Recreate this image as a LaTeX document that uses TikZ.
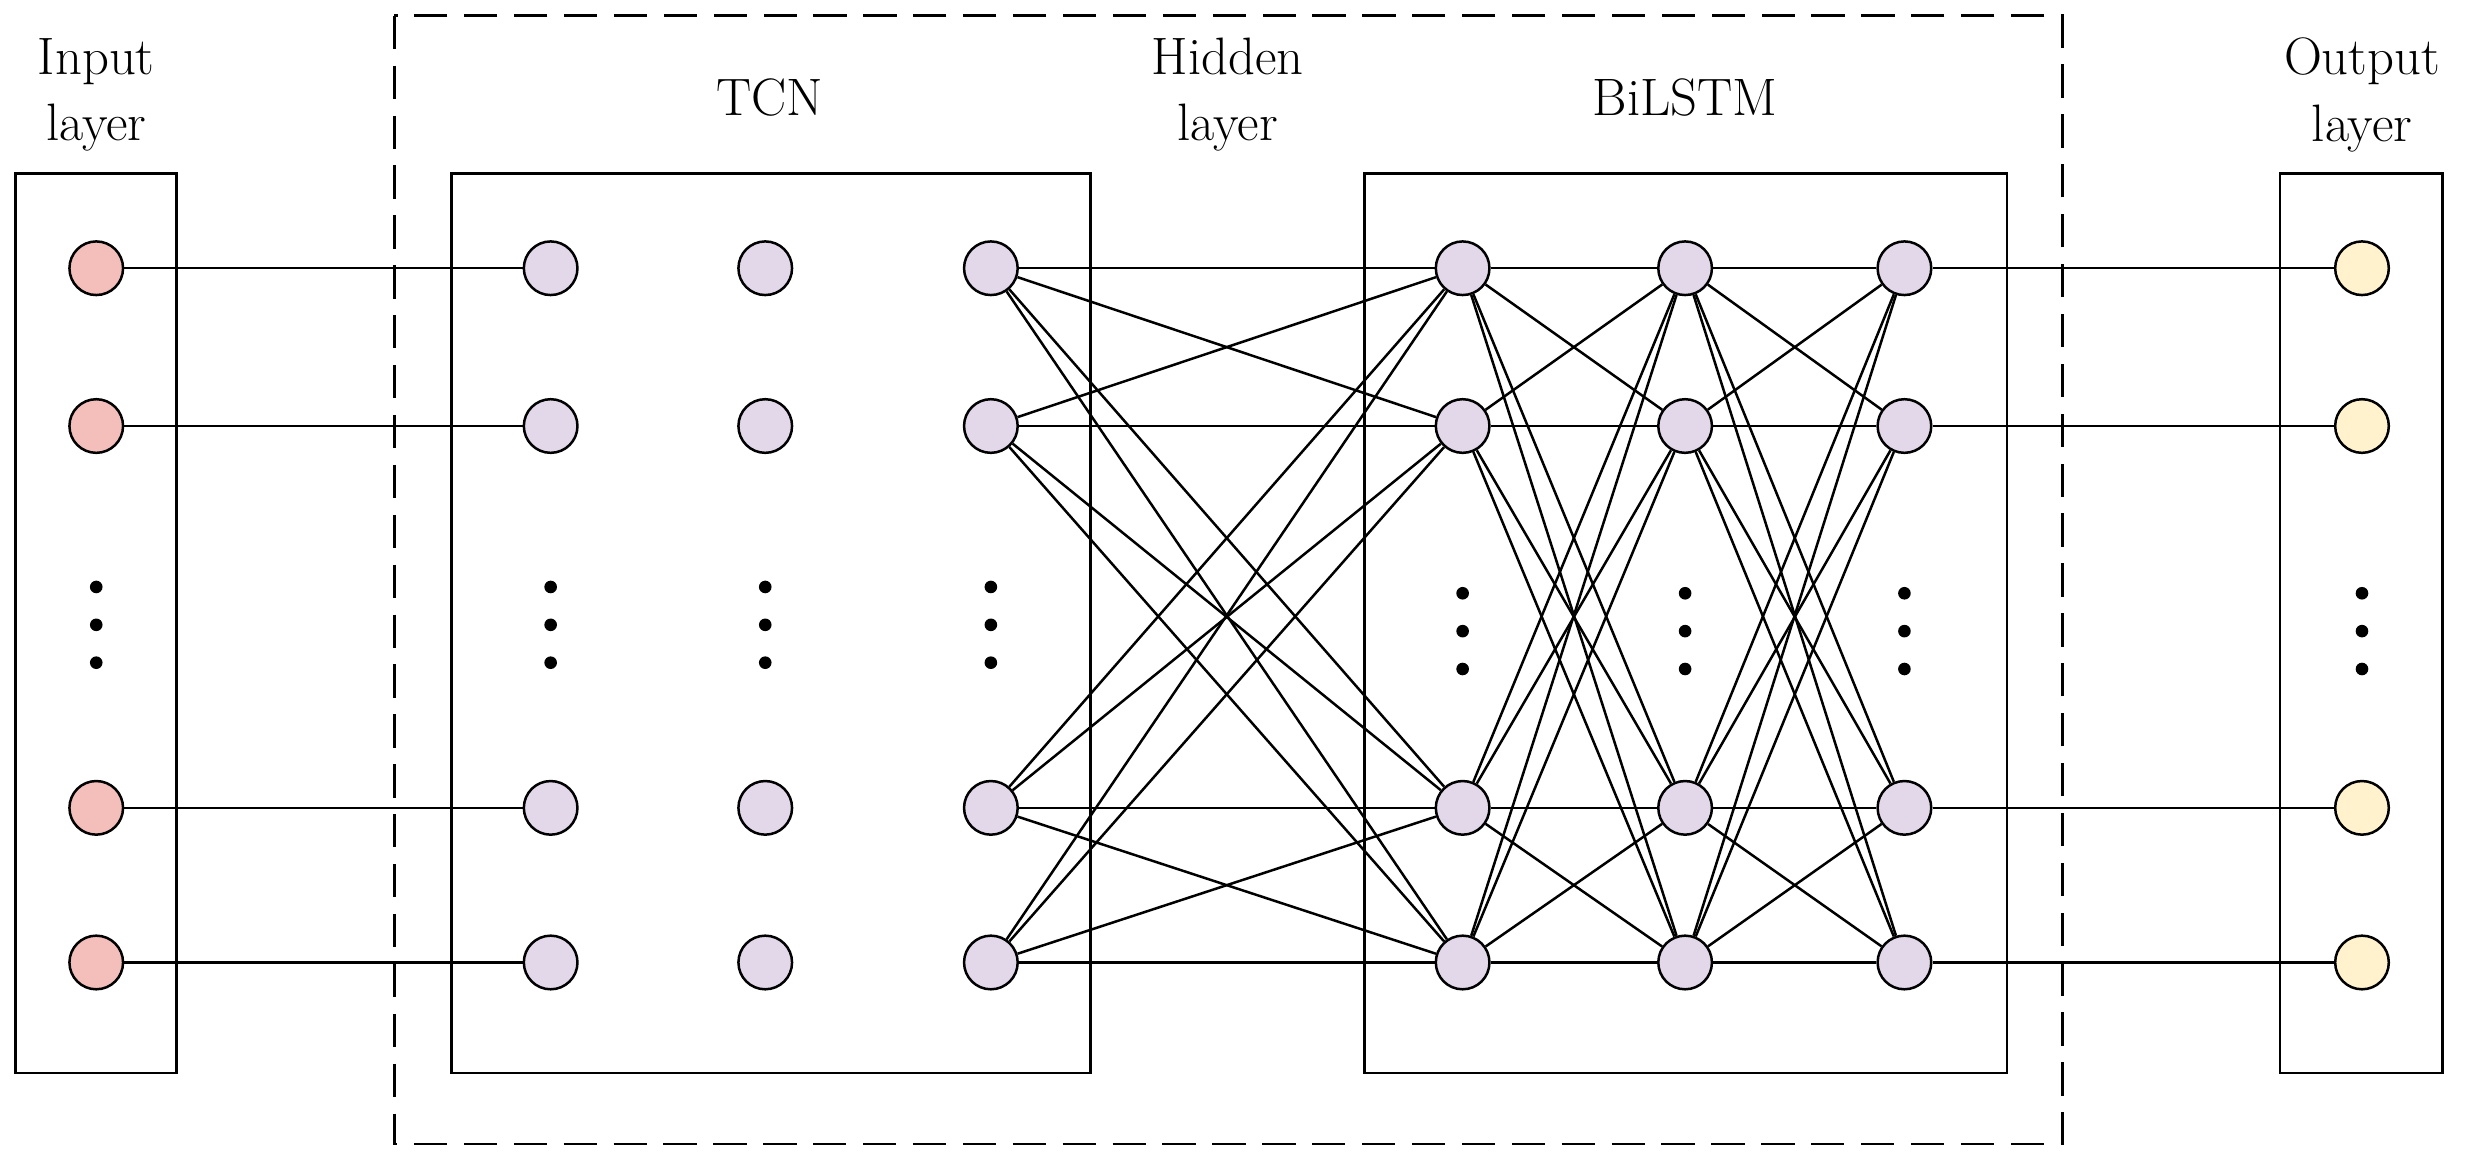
\documentclass[tikz,border=0pt]{standalone}
\begin{document}
\begin{tikzpicture}[x=0.02cm,y=-0.02cm,
 box/.style={draw,line width=1pt},
 nd/.style={circle,draw,line width=0.9pt,minimum size=0.68cm,inner sep=0pt},
 inp/.style={nd,fill={rgb,255:red,244;green,190;blue,186}},
 mid/.style={nd,fill={rgb,255:red,226;green,216;blue,234}},
 outp/.style={nd,fill={rgb,255:red,255;green,242;blue,204}},
 lbl/.style={align=center,font=\fontsize{19}{24}\selectfont},
 ln/.style={line width=0.9pt},
 dot/.style={circle,fill,inner sep=0pt,minimum size=0.16cm}]
\useasboundingbox (0,0) rectangle (1568,741);
\draw[box] (10,110) rectangle (112,680);
\draw[box,dash pattern=on 12pt off 6pt] (250,10) rectangle (1307,725);
\draw[box] (286,110) rectangle (691,680);
\draw[box] (865,110) rectangle (1272,680);
\draw[box] (1445,110) rectangle (1548,680);
\node[lbl] at (61,60) {Input\\layer};
\node[lbl] at (488,62) {TCN};
\node[lbl] at (778,60) {Hidden\\layer};
\node[lbl] at (1068,62) {BiLSTM};
\node[lbl] at (1497,60) {Output\\layer};
\foreach \r/\y in {1/170,2/270,3/512,4/610}{
 \node[inp] (i\r) at (61,\y) {};
 \node[mid] (a\r) at (349,\y) {};
 \node[mid] (b\r) at (485,\y) {};
 \node[mid] (c\r) at (628,\y) {};
 \node[mid] (d\r) at (927,\y) {};
 \node[mid] (e\r) at (1068,\y) {};
 \node[mid] (f\r) at (1207,\y) {};
 \node[outp] (o\r) at (1497,\y) {};
 \draw[ln] (i\r) -- (a\r);
 \draw[ln] (f\r) -- (o\r);
}
\foreach \s in {1,2,3,4}{\foreach \t in {1,2,3,4}{
 \draw[ln] (c\s) -- (d\t);
 \draw[ln] (d\s) -- (e\t);
 \draw[ln] (e\s) -- (f\t);
}}
\foreach \x in {61,349,485,628}{\foreach \y in {372,396,420}{\node[dot] (p\x-\y) at (\x,\y) {};}}
\foreach \x in {927,1068,1207,1497}{\foreach \y in {376,400,424}{\node[dot] (q\x-\y) at (\x,\y) {};}}
\end{tikzpicture}
\end{document}
